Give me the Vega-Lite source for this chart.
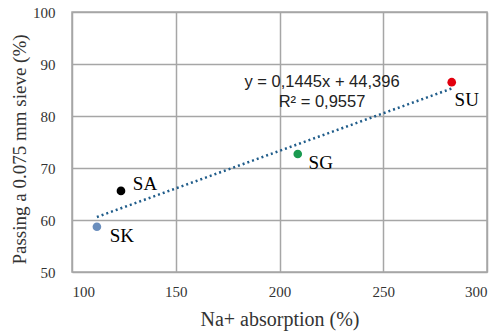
{
  "$schema": "https://vega.github.io/schema/vega-lite/v6.json",
  "width": 415,
  "height": 260,
  "autosize": {"type": "none"},
  "padding": {"left": 72, "top": 12, "right": 14, "bottom": 61},
  "background": "white",
  "config": {
    "view": {"stroke": "#a6a6a6", "strokeWidth": 1.5},
    "axis": {
      "grid": true,
      "gridColor": "#a6a6a6",
      "gridWidth": 1.5,
      "domain": false,
      "ticks": false,
      "labelFont": "Liberation Serif",
      "labelFontSize": 15,
      "labelColor": "#333333",
      "titleFont": "Liberation Serif",
      "titleFontSize": 20,
      "titleFontWeight": "normal",
      "titleColor": "#333333"
    }
  },
  "datasets": {
    "pts": [
      {"name": "SK", "x": 112, "y": 58.7},
      {"name": "SA", "x": 123.6, "y": 65.6},
      {"name": "SG", "x": 208.8, "y": 72.7},
      {"name": "SU", "x": 283, "y": 86.5}
    ],
    "trend": [
      {"x": 112, "y": 60.58},
      {"x": 283, "y": 85.29}
    ],
    "eq": [
      {"x": 220.5, "y": 86.5, "t": "y = 0,1445x + 44,396"},
      {"x": 220.5, "y": 82.7, "t": "R² = 0,9557"}
    ]
  },
  "layer": [
    {
      "data": {"name": "trend"},
      "mark": {"type": "line", "color": "#1f5c8a", "strokeWidth": 2.5, "strokeDash": [2, 3]},
      "encoding": {
        "x": {"field": "x", "type": "quantitative", "scale": {"domain": [100, 300]},
          "axis": {"values": [100, 150, 200, 250, 300], "title": "Na+ absorption (%)", "labelPadding": 12, "titleY": 53, "titleBaseline": "alphabetic"}},
        "y": {"field": "y", "type": "quantitative", "scale": {"domain": [50, 100]},
          "axis": {"values": [50, 60, 70, 80, 90, 100], "title": "Passing a 0.075 mm sieve (%)", "titleFontSize": 19, "labelPadding": 17, "titleX": -47, "titleY": 137, "titleBaseline": "alphabetic"}}
      }
    },
    {
      "data": {"name": "pts"},
      "mark": {"type": "circle", "size": 75, "opacity": 1},
      "encoding": {
        "x": {"field": "x", "type": "quantitative"},
        "y": {"field": "y", "type": "quantitative"},
        "color": {"field": "name", "type": "nominal", "legend": null,
          "scale": {"domain": ["SK", "SA", "SG", "SU"], "range": ["#6a8ebd", "#000000", "#1a9a50", "#e2000f"]}}
      }
    },
    {
      "data": {"name": "pts"},
      "transform": [{"filter": "datum.name === 'SK'"}],
      "mark": {"type": "text", "font": "Liberation Serif", "fontSize": 19, "color": "#000000", "align": "center", "baseline": "middle", "dx": 25, "dy": 9},
      "encoding": {"x": {"field": "x", "type": "quantitative"}, "y": {"field": "y", "type": "quantitative"}, "text": {"field": "name"}}
    },
    {
      "data": {"name": "pts"},
      "transform": [{"filter": "datum.name === 'SA'"}],
      "mark": {"type": "text", "font": "Liberation Serif", "fontSize": 19, "color": "#000000", "align": "center", "baseline": "middle", "dx": 24, "dy": -7},
      "encoding": {"x": {"field": "x", "type": "quantitative"}, "y": {"field": "y", "type": "quantitative"}, "text": {"field": "name"}}
    },
    {
      "data": {"name": "pts"},
      "transform": [{"filter": "datum.name === 'SG'"}],
      "mark": {"type": "text", "font": "Liberation Serif", "fontSize": 19, "color": "#000000", "align": "center", "baseline": "middle", "dx": 23, "dy": 9},
      "encoding": {"x": {"field": "x", "type": "quantitative"}, "y": {"field": "y", "type": "quantitative"}, "text": {"field": "name"}}
    },
    {
      "data": {"name": "pts"},
      "transform": [{"filter": "datum.name === 'SU'"}],
      "mark": {"type": "text", "font": "Liberation Serif", "fontSize": 19, "color": "#000000", "align": "center", "baseline": "middle", "dx": 15, "dy": 18},
      "encoding": {"x": {"field": "x", "type": "quantitative"}, "y": {"field": "y", "type": "quantitative"}, "text": {"field": "name"}}
    },
    {
      "data": {"name": "eq"},
      "mark": {"type": "text", "font": "Liberation Sans", "fontSize": 16.5, "color": "#222222", "align": "center", "baseline": "middle"},
      "encoding": {"x": {"field": "x", "type": "quantitative"}, "y": {"field": "y", "type": "quantitative"}, "text": {"field": "t"}}
    }
  ]
}
